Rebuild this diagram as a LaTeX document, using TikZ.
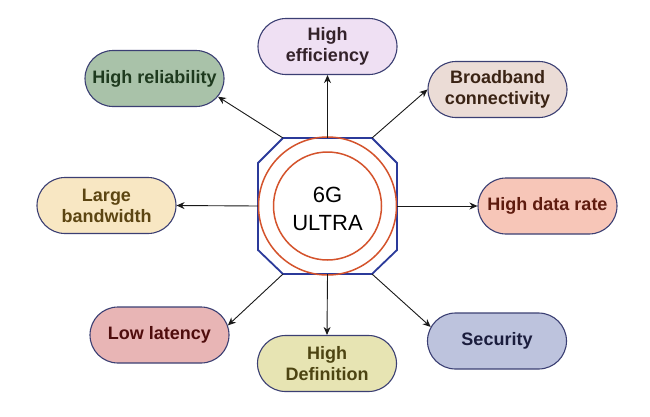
\documentclass[tikz,border=0pt]{standalone}
\usepackage{fontspec}
\setmainfont{Liberation Sans}
\usetikzlibrary{shapes.misc,arrows.meta}
\definecolor{bordc}{HTML}{3B3F73}
\definecolor{octc}{HTML}{2B3A9A}
\definecolor{circc}{HTML}{D4532C}
\definecolor{relf}{HTML}{A9C2A9}\definecolor{relt}{HTML}{1E3A1E}
\definecolor{efff}{HTML}{EFE0F3}\definecolor{efft}{HTML}{33222A}
\definecolor{brdf}{HTML}{EBDCD6}\definecolor{brdt}{HTML}{3A2314}
\definecolor{bwf}{HTML}{F8E7C3}\definecolor{bwt}{HTML}{5C4512}
\definecolor{drf}{HTML}{F7C6B8}\definecolor{drt}{HTML}{5E1B0E}
\definecolor{latf}{HTML}{E8B5B5}\definecolor{latt}{HTML}{4F0D0D}
\definecolor{deff}{HTML}{E7E4B3}\definecolor{deft}{HTML}{4D4412}
\definecolor{secf}{HTML}{BDC3DD}\definecolor{sect}{HTML}{1B1D3D}
\begin{document}
\begin{tikzpicture}[x=1pt,y=-1pt,
  pill/.style={rounded rectangle, draw=bordc, line width=1.1pt, minimum width=139pt,
    minimum height=56pt, inner sep=0pt, align=center,
    font=\bfseries\fontsize{18}{21}\selectfont},
  conn/.style={draw=black!90, line width=0.9pt, -{Stealth[length=8pt,width=7pt]}}]
\useasboundingbox[fill=white] (0,0) rectangle (650,416);
% octagon
\draw[octc, line width=1.8pt] (283,138) -- (372,138) -- (397,163) -- (397,250) -- (372,274)
  -- (283,274) -- (258,250) -- (258,163) -- cycle;
\coordinate (on) at (327.5,138);
\coordinate (os) at (327.5,274);
\coordinate (ow) at (258,206);
\coordinate (oe) at (397,206);
\coordinate (onw) at (283,138);
\coordinate (one) at (372,138);
\coordinate (osw) at (283,274);
\coordinate (ose) at (372,274);
% circles and title
\node[circle, draw=circc, line width=1.5pt, minimum size=138pt, inner sep=0pt] (outer) at (327.5,206) {};
\node[circle, draw=circc, line width=1.5pt, minimum size=108pt, inner sep=0pt] (inner) at (327.5,206) {};
\node[align=center, font=\fontsize{22}{28}\selectfont, text=black] (title) at (327.5,209) {6G\\ULTRA};
% boxes
\node[pill, fill=relf, text=relt] (rel) at (154.5,78.5) {High reliability};
\node[pill, fill=efff, text=efft] (eff) at (327.5,46.5) {High\\efficiency};
\node[pill, fill=brdf, text=brdt] (brd) at (497.5,89.5) {Broadband\\connectivity};
\node[pill, fill=bwf, text=bwt] (bw) at (106.5,205.5) {Large\\bandwidth};
\node[pill, fill=drf, text=drt] (dr) at (547.5,206) {High data rate};
\node[pill, fill=latf, text=latt] (lat) at (159.5,335) {Low latency};
\node[pill, fill=deff, text=deft] (def) at (327,363.5) {High\\Definition};
\node[pill, fill=secf, text=sect] (sec) at (497,341) {Security};
% connectors
\draw[conn] (on) -- (eff.south);
\draw[conn] (onw) -- (rel.-16);
\draw[conn] (one) -- (brd.west);
\draw[conn] (ow) -- (bw.east);
\draw[conn] (oe) -- (dr.west);
\draw[conn] (osw) -- (lat.8);
\draw[conn] (os) -- (def.north);
\draw[conn] (ose) -- (sec.168);
\end{tikzpicture}
\end{document}
